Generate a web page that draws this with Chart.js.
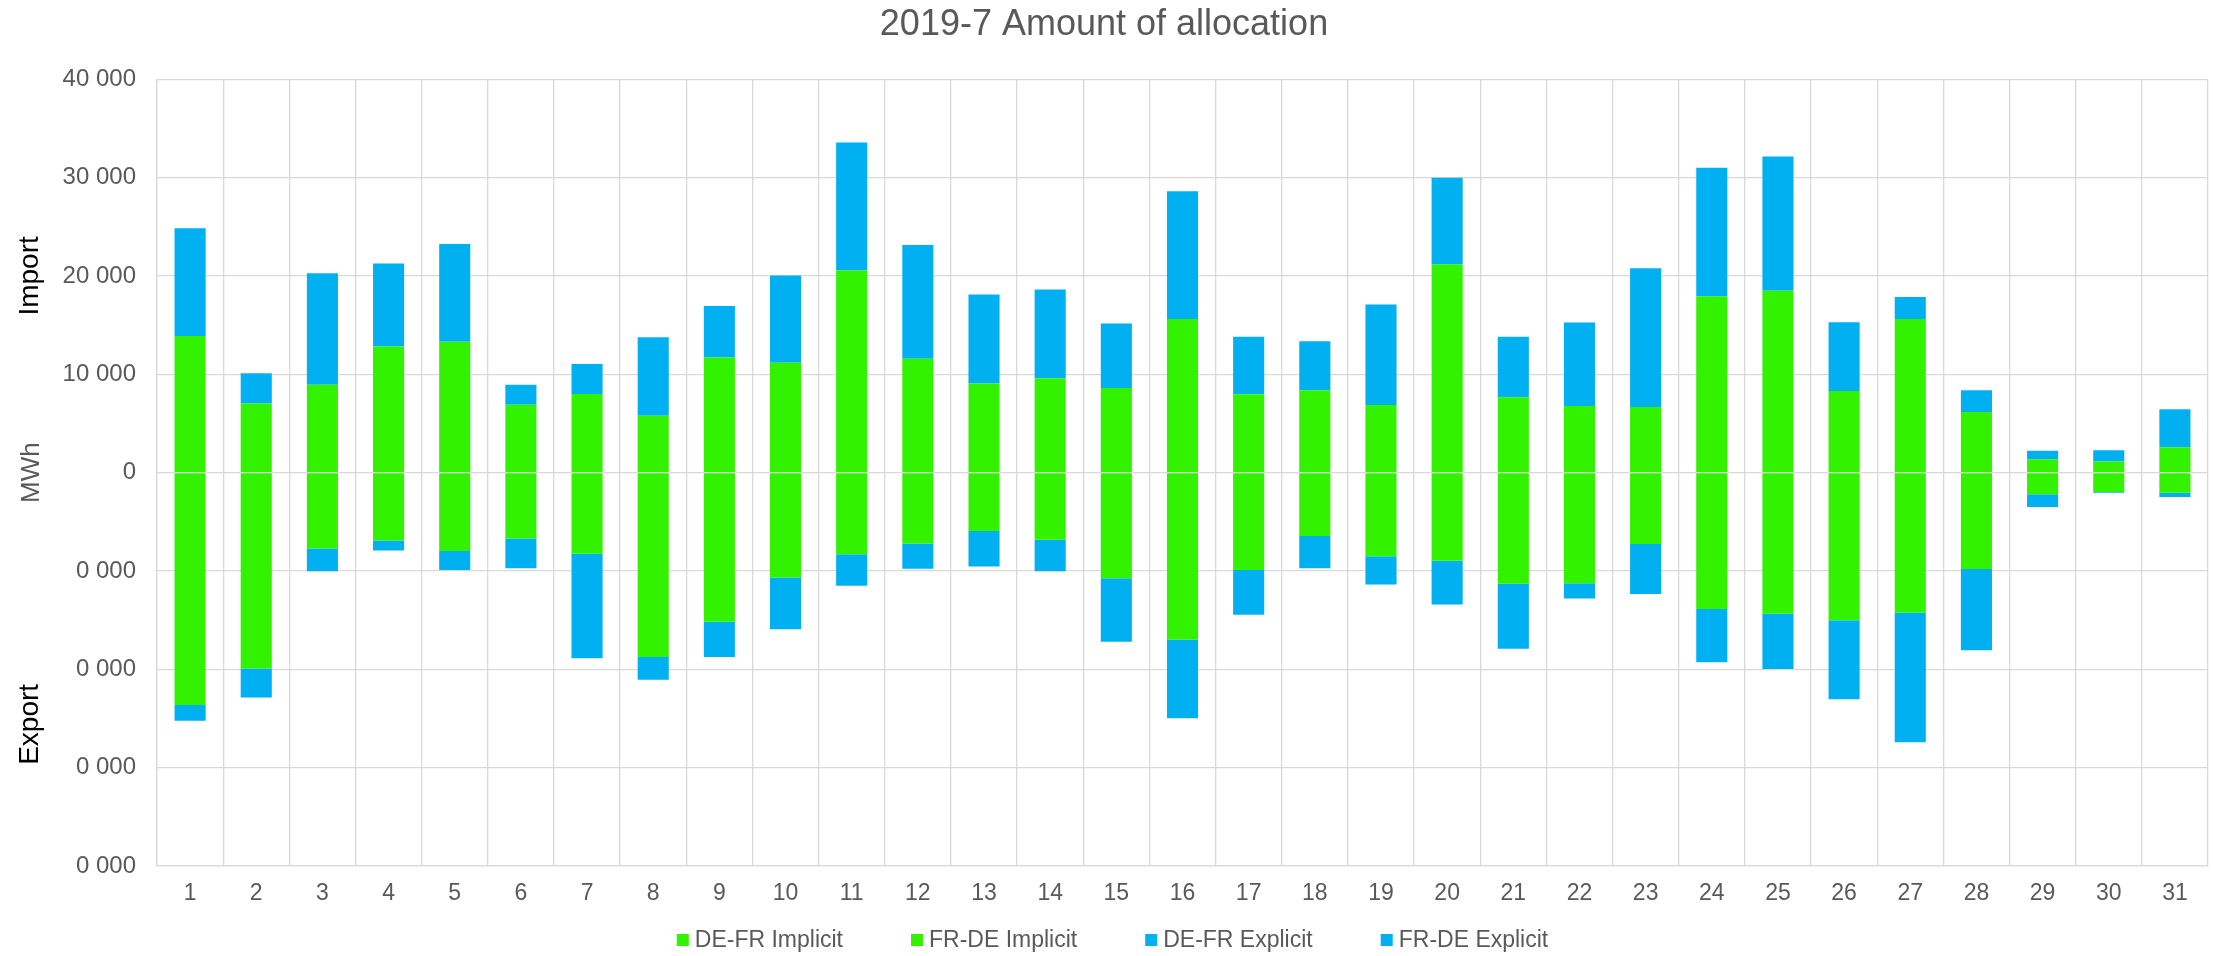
<!DOCTYPE html>
<html>
<head>
<meta charset="utf-8">
<title>2019-7 Amount of allocation</title>
<script src="https://cdn.jsdelivr.net/npm/chart.js@4/dist/chart.umd.min.js"></script>
<style>
  html, body { margin: 0; padding: 0; background: #ffffff; }
  #wrap { width: 2213px; height: 956px; position: relative; }
</style>
</head>
<body>
<div id="wrap"><canvas id="myChart"></canvas></div>
<script>
// Días del mes (eje x)
const days = ['1', '2', '3', '4', '5', '6', '7', '8', '9', '10', '11', '12', '13', '14', '15', '16',
  '17', '18', '19', '20', '21', '22', '23', '24', '25', '26', '27', '28', '29', '30', '31'];

// Valores en MWh
const deFrImplicit = [13900, 7030, 8930, 12810, 13310, 6910, 8000, 5770, 11710, 11160, 20560, 11580, 9060, 9600, 8590, 15630,
  7960, 8380, 6870, 21190, 7670, 6780, 6660, 17940, 18490, 8300, 15630, 6150, 1350, 1140, 2570];
const frDeImplicit = [-23630, -19920, -7710, -6910, -7960, -6700, -8260, -18750, -15160, -10660, -8300, -7200, -5940, -6820, -10740, -16980,
  -9900, -6440, -8510, -8970, -11290, -11250, -7250, -13860, -14360, -15000, -14240, -9810, -2190, -1980, -2060];
const deFrExplicit = [10950, 3080, 11330, 8460, 9940, 2020, 3040, 8000, 5220, 8890, 13010, 11550, 9050, 9020, 6570, 12970,
  5860, 4970, 10230, 8800, 6150, 8470, 14110, 13060, 13650, 6990, 2230, 2230, 880, 1130, 3870];
const frDeExplicit = [-1600, -2950, -2320, -1010, -1940, -3030, -10610, -2310, -3580, -5260, -3200, -2570, -3620, -3210, -6450, -8000,
  -4550, -3290, -2860, -4430, -6610, -1560, -5090, -5430, -5610, -8040, -13180, -8260, -1310, -80, -430];

// Etiquetas del eje y tal como aparecen (de abajo hacia arriba)
const yTickLabels = ['0 000', '0 000', '0 000', '0 000', '0', '10 000', '20 000', '30 000', '40 000'];

const GREEN = '#32F200';
const BLUE = '#00B0F0';
const GREY = '#595959';
const GRID = '#d9d9d9';
const FONT = "'Liberation Sans', Arial, sans-serif";

Chart.defaults.font.family = FONT;
Chart.defaults.color = GREY;

// Textos "Import" / "Export" a la izquierda
const sideLabels = {
  id: 'sideLabels',
  afterDraw(chart) {
    const {ctx, chartArea} = chart;
    const h = chartArea.bottom - chartArea.top;
    const items = [['Import', chartArea.top + h * 0.25], ['Export', chartArea.top + h * 0.82]];
    ctx.save();
    ctx.font = '28px ' + FONT;
    ctx.fillStyle = '#000000';
    ctx.textAlign = 'center';
    ctx.textBaseline = 'middle';
    items.forEach(([txt, y]) => {
      ctx.save();
      ctx.translate(30, y);
      ctx.rotate(-Math.PI / 2);
      ctx.fillText(txt, 0, 0);
      ctx.restore();
    });
    ctx.restore();
  }
};

// Leyenda dibujada a mano (espaciado como en el original)
const bottomLegend = {
  id: 'bottomLegend',
  afterDraw(chart) {
    const {ctx} = chart;
    const sets = chart.data.datasets;
    const box = 12, gapText = 6, gapItem = 68, y = 940;
    ctx.save();
    ctx.font = '23px ' + FONT;
    ctx.textBaseline = 'middle';
    ctx.textAlign = 'left';
    const widths = sets.map(ds => ctx.measureText(ds.label).width);
    const total = widths.reduce((a, w) => a + box + gapText + w, 0) + gapItem * (sets.length - 1);
    let x = (chart.width - total) / 2 + 6;
    sets.forEach((ds, i) => {
      ctx.fillStyle = ds.backgroundColor;
      ctx.fillRect(x, y - box / 2, box, box);
      ctx.fillStyle = GREY;
      ctx.fillText(ds.label, x + box + gapText, y + 1);
      x += box + gapText + widths[i] + gapItem;
    });
    ctx.restore();
  }
};

const data = {
  labels: days,
  datasets: [
    { label: 'DE-FR Implicit', data: deFrImplicit, backgroundColor: GREEN },
    { label: 'FR-DE Implicit', data: frDeImplicit, backgroundColor: GREEN },
    { label: 'DE-FR Explicit', data: deFrExplicit, backgroundColor: BLUE },
    { label: 'FR-DE Explicit', data: frDeExplicit, backgroundColor: BLUE }
  ]
};

const config = {
  type: 'bar',
  data: data,
  options: {
    responsive: true,
    maintainAspectRatio: false,
    animation: false,
    datasets: { bar: { categoryPercentage: 0.47, barPercentage: 1, borderWidth: 0 } },
    layout: { padding: { left: 0, right: 5, top: 0, bottom: 40 } },
    plugins: {
      title: {
        display: true,
        text: '2019-7 Amount of allocation',
        color: GREY,
        font: { size: 36, weight: 'normal' },
        padding: { top: 3, bottom: 33 }
      },
      legend: { display: false },
      tooltip: { enabled: false }
    },
    scales: {
      x: {
        stacked: true,
        grid: { color: GRID, lineWidth: 1.3, drawTicks: false, offset: true },
        border: { color: GRID, width: 1.3 },
        ticks: { color: GREY, font: { size: 23 }, padding: 14, maxRotation: 0, autoSkip: false },
        afterFit: (scale) => { scale.height = 50; }
      },
      y: {
        stacked: true,
        min: -40000,
        max: 40000,
        grid: { color: GRID, lineWidth: 1.3, drawTicks: false },
        border: { color: GRID, width: 1.3 },
        ticks: {
          stepSize: 10000,
          color: GREY,
          font: { size: 24 },
          padding: 21,
          callback: (value, index) => yTickLabels[index]
        },
        title: {
          display: true,
          text: 'MWh',
          color: GREY,
          font: { size: 26 },
          padding: { top: 16, bottom: 0 }
        },
        afterFit: (scale) => { scale.width = 157; }
      }
    }
  },
  plugins: [sideLabels, bottomLegend]
};

const myChart = new Chart(document.getElementById('myChart'), config);
</script>
</body>
</html>
